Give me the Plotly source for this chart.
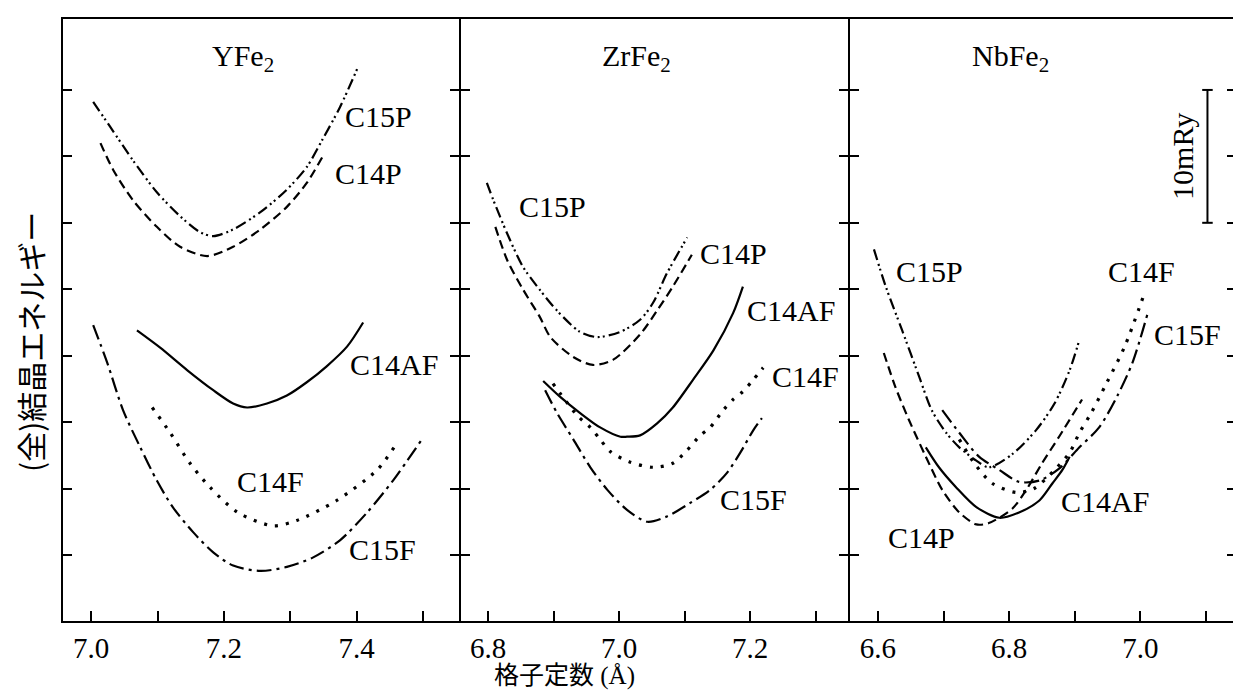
import plotly.graph_objects as go

# ---------------- data (lattice constant in Å, energy in mRy) ----------------
# Panel 1: YFe2
Y_C15P_X = [7.003, 7.029, 7.063, 7.099, 7.134, 7.164, 7.184, 7.214, 7.255, 7.295, 7.325, 7.349, 7.375, 7.402]
Y_C15P_E = [34.1, 32.2, 29.7, 27.3, 25.5, 24.3, 24.0, 24.5, 25.8, 27.5, 29.2, 31.3, 33.7, 36.7]
Y_C14P_X = [7.014, 7.033, 7.063, 7.099, 7.134, 7.175, 7.214, 7.255, 7.295, 7.325, 7.349]
Y_C14P_E = [31.0, 29.0, 26.7, 24.7, 23.2, 22.5, 23.2, 24.5, 26.2, 28.0, 30.0]
Y_C14AF_X = [7.069, 7.104, 7.145, 7.184, 7.214, 7.235, 7.265, 7.295, 7.325, 7.355, 7.386, 7.410]
Y_C14AF_E = [16.9, 15.6, 13.9, 12.4, 11.4, 11.1, 11.4, 12.0, 13.0, 14.2, 15.7, 17.5]
Y_C14F_X = [7.092, 7.119, 7.149, 7.179, 7.221, 7.274, 7.310, 7.370, 7.431, 7.458]
Y_C14F_E = [11.1, 9.2, 6.9, 5.1, 3.2, 2.2, 2.6, 4.1, 6.4, 8.2]
Y_C15F_X = [7.003, 7.024, 7.048, 7.074, 7.099, 7.123, 7.154, 7.184, 7.214, 7.255, 7.295, 7.334, 7.375, 7.416, 7.455, 7.500]
Y_C15F_E = [17.3, 14.5, 10.9, 8.1, 5.6, 3.6, 1.7, 0.2, -0.8, -1.2, -0.9, -0.2, 1.1, 3.2, 5.6, 8.8]

# Panel 2: ZrFe2
Z_C15P_X = [6.798, 6.808, 6.829, 6.853, 6.879, 6.905, 6.940, 6.966, 7.002, 7.032, 7.052, 7.073, 7.104]
Z_C15P_E = [28.0, 26.7, 24.2, 21.7, 19.95, 18.4, 16.8, 16.4, 16.8, 17.7, 19.0, 21.2, 23.9]
Z_C14P_X = [6.811, 6.829, 6.853, 6.879, 6.895, 6.930, 6.960, 6.991, 7.032, 7.058, 7.082, 7.111]
Z_C14P_E = [24.7, 22.2, 20.0, 17.9, 16.4, 14.9, 14.3, 14.7, 16.6, 18.4, 20.2, 22.6]
Z_C14AF_X = [6.884, 6.910, 6.940, 6.971, 7.002, 7.012, 7.032, 7.058, 7.082, 7.113, 7.144, 7.174, 7.189]
Z_C14AF_E = [13.1, 11.9, 10.7, 9.6, 8.9, 8.9, 9.0, 9.9, 11.1, 13.2, 15.4, 18.2, 20.2]
Z_C14F_X = [6.899, 6.936, 6.956, 6.971, 6.986, 7.016, 7.052, 7.082, 7.104, 7.124, 7.139, 7.159, 7.174, 7.189, 7.205, 7.220]
Z_C14F_E = [12.9, 10.5, 9.6, 8.7, 7.8, 7.0, 6.6, 6.9, 7.9, 9.0, 9.6, 10.9, 11.7, 12.3, 13.2, 14.1]
Z_C15F_X = [6.887, 6.905, 6.930, 6.956, 6.982, 7.012, 7.043, 7.073, 7.108, 7.139, 7.165, 7.185, 7.205, 7.218]
Z_C15F_E = [12.4, 10.7, 8.7, 6.6, 4.9, 3.4, 2.5, 2.9, 3.9, 4.9, 6.2, 7.7, 9.4, 10.3]

# Panel 3: NbFe2
N_C15P_X = [6.594, 6.612, 6.637, 6.663, 6.682, 6.704, 6.724, 6.750, 6.769, 6.805, 6.841, 6.869, 6.892, 6.907]
N_C15P_E = [23.0, 20.2, 16.9, 13.4, 10.9, 9.2, 8.1, 7.1, 6.6, 7.6, 9.4, 11.4, 13.9, 16.2]
N_C14P_X = [6.609, 6.627, 6.647, 6.673, 6.698, 6.724, 6.750, 6.769, 6.805, 6.826, 6.850, 6.876, 6.911]
N_C14P_E = [15.2, 12.6, 10.2, 7.4, 4.9, 3.2, 2.3, 2.4, 3.5, 4.9, 6.9, 8.9, 11.7]
N_C14AF_X = [6.673, 6.693, 6.719, 6.750, 6.785, 6.815, 6.846, 6.866, 6.881, 6.892]
N_C14AF_E = [8.1, 6.6, 5.1, 3.6, 2.8, 3.2, 4.1, 5.4, 6.4, 7.4]
N_C14F_X = [6.724, 6.747, 6.774, 6.811, 6.838, 6.869, 6.892, 6.907, 6.925, 6.948, 6.976, 7.006]
N_C14F_E = [8.7, 6.9, 5.4, 4.7, 5.0, 6.4, 7.7, 9.2, 10.7, 12.9, 15.7, 19.7]
N_C15F_X = [6.698, 6.724, 6.754, 6.785, 6.815, 6.846, 6.876, 6.907, 6.937, 6.965, 6.988, 7.011]
N_C15F_E = [10.9, 9.2, 7.4, 6.4, 5.5, 5.6, 6.5, 8.1, 9.6, 12.0, 14.5, 18.2]

PANEL_TITLES = ["YFe<sub>2</sub>", "ZrFe<sub>2</sub>", "NbFe<sub>2</sub>"]
X_RANGES = [[6.956, 7.556], [6.757, 7.351], [6.556, 7.147]]
X_MAJOR = [[7.0, 7.2, 7.4], [6.8, 7.0, 7.2], [6.6, 6.8, 7.0]]
X_MAJOR_TEXT = [["7.0", "7.2", "7.4"], ["6.8", "7.0", "7.2"], ["6.6", "6.8", "7.0"]]
X_MINOR = [[7.1, 7.3, 7.5], [6.9, 7.1, 7.3], [6.7, 6.9, 7.1]]
Y_TICKVALS = [0, 5, 10, 15, 20, 25, 30, 35]
Y_RANGE = [-4.97, 40.34]
SCALE_BAR = [25, 35]   # 10 mRy
SCALE_X = 7.102

# label positions (x, energy) per panel
LABELS = [
    [("C15P", 7.380, 33.0), ("C14P", 7.364, 28.7), ("C14AF", 7.387, 14.3), ("C14F", 7.217, 5.5), ("C15F", 7.386, 0.4)],
    [("C15P", 6.844, 26.2), ("C14P", 7.121, 22.7), ("C14AF", 7.192, 18.4), ("C14F", 7.231, 13.4), ("C15F", 7.151, 4.2)],
    [("C15P", 6.624, 21.3), ("C14F", 6.948, 21.3), ("C15F", 7.018, 16.6), ("C14AF", 6.876, 4.0), ("C14P", 6.612, 1.3)],
]
TITLE_POS = [7.229, 7.027, 6.802]
TITLE_E = 37.4

# ---------------- styles ----------------
SERIF = "Liberation Serif, Noto Sans CJK JP"
STYLE = {
    "C15P": dict(dash="11px,4px,2px,3px,2px,4px", width=2.2),
    "C14P": dict(dash="9px,5px", width=2.2),
    "C14AF": dict(dash="solid", width=2.2),
    "C14F": dict(dash="3px,8px", width=3.2),
    "C15F": dict(dash="15px,5px,3px,5px", width=2.2),
}

panels = [
    [("C15P", Y_C15P_X, Y_C15P_E), ("C14P", Y_C14P_X, Y_C14P_E), ("C14AF", Y_C14AF_X, Y_C14AF_E),
     ("C14F", Y_C14F_X, Y_C14F_E), ("C15F", Y_C15F_X, Y_C15F_E)],
    [("C15P", Z_C15P_X, Z_C15P_E), ("C14P", Z_C14P_X, Z_C14P_E), ("C14AF", Z_C14AF_X, Z_C14AF_E),
     ("C14F", Z_C14F_X, Z_C14F_E), ("C15F", Z_C15F_X, Z_C15F_E)],
    [("C15P", N_C15P_X, N_C15P_E), ("C14P", N_C14P_X, N_C14P_E), ("C14AF", N_C14AF_X, N_C14AF_E),
     ("C14F", N_C14F_X, N_C14F_E), ("C15F", N_C15F_X, N_C15F_E)],
]

# page layout (the page body has an 8px margin)
OFF = 8
W, H = 1241 - OFF, 691 - OFF
LEFT, RIGHT, TOP, BOTTOM = 62, 1237, 19, 621          # plot frame in window pixels
ML, MT = LEFT - OFF, TOP - OFF
MR = W - (RIGHT - OFF)
MB = H - (BOTTOM - OFF)
pw = RIGHT - LEFT
ph = BOTTOM - TOP
edges_px = [62, 460, 849, 1237]
domains = [[(edges_px[i] - LEFT) / pw, (edges_px[i + 1] - LEFT) / pw] for i in range(3)]


def px_to_paper(xp, yp):
    return (xp - LEFT) / pw, (BOTTOM - yp) / ph


fig = go.Figure()
annotations = []
shapes = []
tickfont = dict(family=SERIF, size=29, color="black")
for i, curves in enumerate(panels):
    xa = "x" if i == 0 else f"x{i+1}"
    ya = "y" if i == 0 else f"y{i+1}"
    for name, xs, es in curves:
        st = STYLE[name]
        fig.add_trace(go.Scatter(x=xs, y=es, mode="lines", xaxis=xa, yaxis=ya,
                                 line=dict(color="black", width=st["width"], dash=st["dash"],
                                           shape="spline", smoothing=0.8),
                                 showlegend=False, hoverinfo="skip"))
    for text, lx, le in LABELS[i]:
        annotations.append(dict(x=lx, y=le, xref=xa, yref=ya, text=text, showarrow=False,
                                xanchor="left", yanchor="middle",
                                font=dict(family=SERIF, size=30, color="black")))
    annotations.append(dict(x=TITLE_POS[i], y=TITLE_E, xref=xa, yref=ya, text=PANEL_TITLES[i],
                            showarrow=False, xanchor="center", yanchor="middle",
                            font=dict(family=SERIF, size=30, color="black")))
    axkey = "xaxis" if i == 0 else f"xaxis{i+1}"
    aykey = "yaxis" if i == 0 else f"yaxis{i+1}"
    fig.layout[axkey] = dict(domain=domains[i], range=X_RANGES[i], anchor=ya,
                             tickmode="array", tickvals=X_MAJOR[i], ticktext=X_MAJOR_TEXT[i],
                             ticks="inside", ticklen=10, tickwidth=2, tickcolor="black",
                             minor=dict(tickmode="array", tickvals=X_MINOR[i], ticks="inside",
                                        ticklen=10, tickwidth=2, tickcolor="black", showgrid=False),
                             showline=True, linewidth=2, linecolor="black", mirror=True,
                             showgrid=False, zeroline=False, tickfont=tickfont)
    fig.layout[aykey] = dict(domain=[0, 1], range=Y_RANGE, anchor=xa,
                             tickmode="array", tickvals=Y_TICKVALS, showticklabels=False,
                             ticks="inside", ticklen=10, tickwidth=2, tickcolor="black",
                             showline=True, linewidth=1.1, linecolor="black", mirror="ticks",
                             showgrid=False, zeroline=False)

# thicken the outer left / right frame edges
for xe in (0, 1):
    shapes.append(dict(type="line", xref="paper", yref="paper", x0=xe, x1=xe, y0=0, y1=1,
                       line=dict(color="black", width=2)))

# scale bar (10 mRy) in panel 3
cap = 0.008
shapes.append(dict(type="line", xref="x3", yref="y3", x0=SCALE_X, x1=SCALE_X,
                   y0=SCALE_BAR[0], y1=SCALE_BAR[1], line=dict(color="black", width=2)))
for v in SCALE_BAR:
    shapes.append(dict(type="line", xref="x3", yref="y3", x0=SCALE_X - cap, x1=SCALE_X + cap,
                       y0=v, y1=v, line=dict(color="black", width=2)))
annotations.append(dict(x=SCALE_X - 0.038, y=sum(SCALE_BAR) / 2, xref="x3", yref="y3", text="10mRy",
                        textangle=-90, showarrow=False, xanchor="center", yanchor="middle",
                        font=dict(family=SERIF, size=30, color="black")))

# axis titles
yx, yy = px_to_paper(30, 342)
annotations.append(dict(x=yx, y=yy, xref="paper", yref="paper",
                        text="(全)結晶エネルギー", textangle=-90, showarrow=False,
                        xanchor="center", yanchor="middle",
                        font=dict(family="Noto Sans CJK JP", size=30, color="black")))
xx, xy = px_to_paper(564, 676)
annotations.append(dict(x=xx, y=xy, xref="paper", yref="paper",
                        text="格子定数 (Å)", showarrow=False, xanchor="center", yanchor="middle",
                        font=dict(family=SERIF, size=25, color="black")))

fig.update_layout(width=W, height=H, margin=dict(l=ML, r=MR, t=MT, b=MB, autoexpand=False),
                  paper_bgcolor="white", plot_bgcolor="white",
                  annotations=annotations, shapes=shapes)

fig.write_html("out.html")
